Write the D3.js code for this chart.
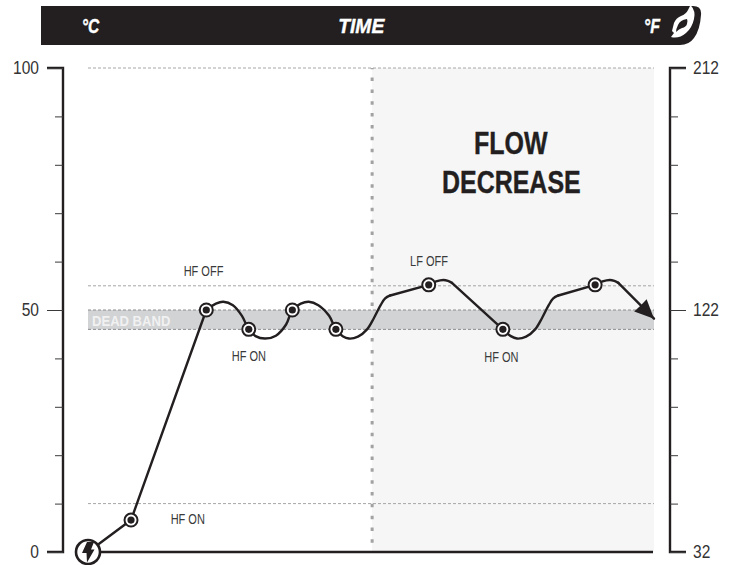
<!DOCTYPE html>
<html><head><meta charset="utf-8">
<script src="https://cdn.jsdelivr.net/npm/d3@7/dist/d3.min.js"></script>
<style>html,body{margin:0;padding:0;background:#fff}svg{display:block}text{font-family:"Liberation Sans",sans-serif}</style>
</head><body><svg id="c" width="735" height="565"></svg>
<script>
const celsiusLabels=[0,50,100];
const fahrenheitLabels=[32,122,212];
const celsiusTicks=[0,10,20,30,40,50,60,70,80,90,100];
const fahrenheitTicks=[32,50,68,86,104,122,140,158,176,194,212];
const guideLevels=[100,55,50,46,10];
const deadBand=[46,50];
const flowDecreaseStart=50.2;
// time (% of plot width), temperature (°C)
const switchPoints=[[7.6,6.6],[20.9,50],[28.4,46],[36.1,50],[43.8,46],[60.2,55.2],[73.3,46],[89.6,55.2]];
const straightRise=[[0,0],[7.6,6.6],[20.9,50]];
const waveA=[[20.9,50],[22.6,51.3],[23.9,51.7],[25.6,51],[27.2,48.8],[28.4,46],[29.6,44.6],[31.3,44.1],[33.2,44.7],[35,47],[36.1,50],[37.6,51.3],[39,51.7],[40.7,51],[42.6,48.8],[43.8,46],[45,44.6],[46.1,44.1],[47.7,44.5],[49.3,46],[50.5,48.3],[51.7,51],[52.5,52.4],[53.4,53]];
const riseA=[[53.4,53],[60.2,55.2]];
const crestA=[[60.2,55.2],[61.5,55.9],[62.8,56.2],[63.6,56],[64.3,55.6]];
const fallA=[[64.3,55.6],[73.3,46]];
const waveB=[[73.3,46],[74.7,44.6],[75.8,44.1],[77.4,44.5],[79,46],[80.2,48.3],[81.4,51],[82.2,52.4],[83.1,53]];
const riseB=[[83.1,53],[89.6,55.2]];
const crestB=[[89.6,55.2],[90.9,55.9],[92.2,56.2],[93,56],[93.7,55.6]];
const fallB=[[93.7,55.6],[100,48.2]];
const arrowHead=[[100,48.2],[98.7,52.2],[97.6,50.9],[96.5,49.7]];
const headerLabels=["°C","TIME","°F"];
const headerTimes=[-1.1,44.2,98.2];
const annotationText=["HF OFF","HF ON","HF ON","LF OFF","HF ON"];
const annotationTime=[16.9,25.4,14.6,56.9,70];
const annotationTemp=[57.1,39.5,5.8,59.1,39.3];
const titleLines=["FLOW","DECREASE"];

const svg=d3.select("#c");
const x=d3.scaleLinear().domain([0,100]).range([88,654]);
const y=d3.scaleLinear().domain([0,100]).range([552,68]);
const yF=d3.scaleLinear().domain([32,212]).range([552,68]);
const ink="#231f20";
// condense: the installed sans has no narrow cut, so squeeze each text
function narrow(sel,f){sel.each(function(){const n=this.getComputedTextLength();
  d3.select(this).attr("textLength",n*f).attr("lengthAdjust","spacingAndGlyphs");});return sel;}

// header
svg.append("path").attr("fill",ink).attr("d","M41 6H693Q702 6 701 15Q700 30 694 38Q689 45 680 45H41Z");
const hdrFactor=[0.74,0.92,0.76];
svg.selectAll("text.h").data(headerLabels).join("text").attr("class","h").attr("x",(d,i)=>x(headerTimes[i])).attr("y",33)
 .attr("font-size",21).attr("font-weight",700).attr("font-style","italic").attr("fill","#fff").attr("stroke","#fff").attr("stroke-width",0.4).text(d=>d)
 .each(function(d,i){narrow(d3.select(this),hdrFactor[i]);});
svg.append("path").attr("fill","#fff").attr("d","M690.5 5Q696 11 694 19Q692 28 686 33Q679 39 671 37L674 33L672 31L674 23Q676 18 681 16Q686 14 688 10Z");
svg.append("path").attr("fill",ink).attr("d","M687 19Q680 20 678 25Q676 29 676 32Q679 29 682 28Q686 27 687 24Q688 21 687 19Z");

// panels
svg.append("rect").attr("x",372).attr("y",y(100)).attr("width",x(100)-372).attr("height",y(0)-y(100)).attr("fill","#f6f6f6");
svg.append("line").attr("x1",x(flowDecreaseStart)).attr("x2",x(flowDecreaseStart)).attr("y1",y(100)).attr("y2",y(0))
 .attr("stroke","#a2a2a2").attr("stroke-width",3).attr("stroke-dasharray","3.5 8.34").attr("stroke-dashoffset",2.25);
svg.append("rect").attr("x",x(0)).attr("y",y(deadBand[1])).attr("width",x(100)-x(0)).attr("height",y(deadBand[0])-y(deadBand[1])).attr("fill","#d1d3d4");
narrow(svg.append("text").attr("x",92).attr("y",325.5).attr("font-size",15).attr("font-weight",700).attr("fill","#f1f1f2").text("DEAD BAND"),0.87);

svg.selectAll("line.g").data(guideLevels).join("line").attr("class","g").attr("x1",x(0)).attr("x2",x(100)).attr("y1",d=>y(d)).attr("y2",d=>y(d))
 .attr("stroke",d=>deadBand.includes(d)?"#8c8c8c":"#a6a6a6").attr("stroke-width",1).attr("stroke-dasharray","3 2");

// axes
const axisL=d3.axisLeft(y).tickValues(celsiusTicks).tickSize(16).tickFormat(d=>celsiusLabels.includes(d)?d:"");
const gL=svg.append("g").attr("transform","translate(63,0)").call(axisL);
const axisR=d3.axisRight(yF).tickValues(fahrenheitTicks).tickSize(16).tickFormat(d=>fahrenheitLabels.includes(d)?d:"");
const gR=svg.append("g").attr("transform","translate(670,0)").call(axisR);
[gL,gR].forEach(g=>{
 g.select(".domain").attr("stroke",ink).attr("stroke-width",2.4).attr("d",g===gL?"M-16,68H0V552H-16":"M16,68H0V552H16");
 g.selectAll(".tick line").attr("stroke","#3a3a3a").attr("stroke-width",1);
 g.selectAll(".tick text").attr("font-size",18.5).attr("fill","#333").attr("font-family",'"Liberation Sans"');
});
gL.selectAll(".tick text").attr("x",-24);
gR.selectAll(".tick text").attr("x",23);
gL.selectAll(".tick line").attr("x2",d=>celsiusLabels.includes(d)?-16:-8);
gR.selectAll(".tick line").attr("x2",d=>fahrenheitLabels.includes(d)?16:8);
narrow(gL.selectAll(".tick text").filter(d=>celsiusLabels.includes(d)),0.84);
narrow(gR.selectAll(".tick text").filter(d=>fahrenheitLabels.includes(d)),0.84);

svg.append("line").attr("x1",x(0)).attr("x2",x(100)-1).attr("y1",y(0)).attr("y2",y(0)).attr("stroke",ink).attr("stroke-width",2.4);

// curve
const lin=d3.line().x(d=>x(d[0])).y(d=>y(d[1]));
const smooth=d3.line().x(d=>x(d[0])).y(d=>y(d[1])).curve(d3.curveCatmullRom.alpha(0.5));
const draw=(pts,gen)=>svg.append("path").attr("d",gen(pts)).attr("fill","none").attr("stroke",ink).attr("stroke-width",2.4).attr("stroke-linecap","round").attr("stroke-linejoin","round");
[straightRise,riseA,fallA,riseB,fallB].forEach(p=>draw(p,lin));
[waveA,crestA,waveB,crestB].forEach(p=>draw(p,smooth));
svg.append("path").attr("d",lin(arrowHead)+"Z").attr("fill",ink);

// markers
const m=svg.selectAll("g.m").data(switchPoints).join("g").attr("class","m").attr("transform",d=>`translate(${x(d[0])},${y(d[1])})`);
m.append("circle").attr("r",6.5).attr("fill","#fff").attr("stroke",ink).attr("stroke-width",2);
m.append("circle").attr("r",3.6).attr("fill",ink);

// start
svg.append("circle").attr("cx",x(0)).attr("cy",y(0)).attr("r",12).attr("fill","#fff").attr("stroke",ink).attr("stroke-width",2.6);
svg.append("path").attr("transform",`translate(${x(0)},${y(0)})`).attr("fill",ink).attr("d","M-1 -10L6 -10L3 -2.5L6.5 -2.5L-1 10.5L-1.5 1L-6 1Z");

// labels
svg.selectAll("text.l").data(annotationText).join("text").attr("class","l").attr("x",(d,i)=>x(annotationTime[i])).attr("y",(d,i)=>y(annotationTemp[i]))
 .attr("font-size",15.5).attr("fill","#3a3a3a").text(d=>d).call(narrow,0.71);
svg.selectAll("text.f").data(titleLines).join("text").attr("class","f").attr("x",(d,i)=>i?442:474).attr("y",(d,i)=>154+i*39)
 .attr("font-size",32).attr("font-weight",700).attr("fill",ink).attr("stroke",ink).attr("stroke-width",0.4).text(d=>d).call(narrow,0.78);
</script></body></html>
